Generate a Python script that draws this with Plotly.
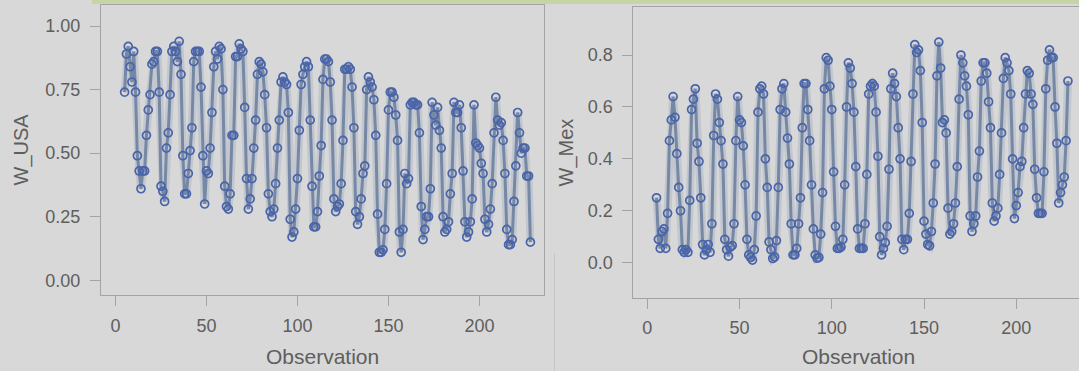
import plotly.graph_objects as go

# ---------------- data ----------------
first_obs = 5

w_usa = [
    0.74, 0.89, 0.92, 0.84, 0.78, 0.90, 0.74, 0.49, 0.43, 0.36, 0.43, 0.43,   # 5-16
    0.57, 0.67, 0.73, 0.85, 0.86, 0.90, 0.90, 0.74, 0.37, 0.35, 0.31, 0.52,   # 17-28
    0.58, 0.73, 0.90, 0.92, 0.90, 0.86, 0.94, 0.81, 0.49, 0.34, 0.34, 0.42,   # 29-40
    0.51, 0.60, 0.86, 0.90, 0.90, 0.90, 0.76, 0.49, 0.30, 0.43, 0.42, 0.52,   # 41-52
    0.66, 0.84, 0.90, 0.87, 0.92, 0.91, 0.75, 0.37, 0.29, 0.28, 0.34, 0.57,   # 53-64
    0.57, 0.88, 0.88, 0.93, 0.91, 0.90, 0.68, 0.40, 0.28, 0.32, 0.40, 0.52,   # 65-76
    0.63, 0.81, 0.86, 0.85, 0.82, 0.73, 0.60, 0.34, 0.27, 0.25, 0.28, 0.38,   # 77-88
    0.52, 0.63, 0.78, 0.80, 0.78, 0.77, 0.66, 0.24, 0.17, 0.19, 0.28, 0.40,   # 89-100
    0.59, 0.77, 0.81, 0.84, 0.86, 0.84, 0.63, 0.37, 0.21, 0.21, 0.27, 0.41,   # 101-112
    0.53, 0.79, 0.87, 0.87, 0.86, 0.78, 0.63, 0.32, 0.27, 0.29, 0.30, 0.38,   # 113-124
    0.55, 0.83, 0.83, 0.84, 0.83, 0.76, 0.60, 0.27, 0.22, 0.25, 0.32, 0.42,   # 125-136
    0.45, 0.75, 0.80, 0.78, 0.76, 0.71, 0.57, 0.26, 0.11, 0.11, 0.12, 0.20,   # 137-148
    0.38, 0.67, 0.74, 0.74, 0.72, 0.65, 0.55, 0.19, 0.11, 0.20, 0.42, 0.38,   # 149-160
    0.40, 0.69, 0.70, 0.70, 0.69, 0.69, 0.58, 0.29, 0.16, 0.20, 0.25, 0.25,   # 161-172
    0.36, 0.70, 0.65, 0.61, 0.68, 0.59, 0.52, 0.25, 0.19, 0.20, 0.23, 0.34,   # 173-184
    0.42, 0.70, 0.66, 0.66, 0.69, 0.60, 0.43, 0.23, 0.17, 0.19, 0.23, 0.32,   # 185-196
    0.69, 0.54, 0.53, 0.52, 0.46, 0.42, 0.24, 0.19, 0.22, 0.28, 0.38, 0.58,   # 197-208
    0.72, 0.63, 0.61, 0.62, 0.55, 0.42, 0.20, 0.14, 0.14, 0.16, 0.31, 0.45,   # 209-220
    0.66, 0.58, 0.50, 0.52, 0.52, 0.41, 0.41, 0.15,                           # 221-228
]

w_mex = [
    0.25, 0.09, 0.055, 0.12, 0.13, 0.055, 0.19, 0.47, 0.55, 0.64, 0.56, 0.42,   # 5-16
    0.29, 0.20, 0.05, 0.04, 0.05, 0.04, 0.24, 0.59, 0.63, 0.67, 0.46, 0.39,     # 17-28
    0.25, 0.07, 0.03, 0.05, 0.07, 0.04, 0.15, 0.49, 0.65, 0.63, 0.54, 0.47,     # 29-40
    0.38, 0.09, 0.05, 0.025, 0.06, 0.066, 0.15, 0.47, 0.64, 0.55, 0.54, 0.45,   # 41-52
    0.30, 0.09, 0.03, 0.02, 0.01, 0.05, 0.18, 0.58, 0.67, 0.68, 0.65, 0.40,     # 53-64
    0.29, 0.08, 0.05, 0.016, 0.022, 0.085, 0.29, 0.59, 0.67, 0.69, 0.58, 0.48,  # 65-76
    0.38, 0.15, 0.03, 0.03, 0.055, 0.15, 0.25, 0.52, 0.69, 0.69, 0.59, 0.47,    # 77-88
    0.30, 0.13, 0.03, 0.017, 0.02, 0.11, 0.27, 0.67, 0.79, 0.78, 0.68, 0.59,    # 89-100
    0.35, 0.14, 0.055, 0.055, 0.06, 0.09, 0.30, 0.60, 0.77, 0.75, 0.69, 0.58,   # 101-112
    0.37, 0.13, 0.055, 0.055, 0.055, 0.15, 0.34, 0.65, 0.68, 0.69, 0.68, 0.58,  # 113-124
    0.41, 0.10, 0.03, 0.055, 0.077, 0.14, 0.36, 0.67, 0.73, 0.69, 0.64, 0.52,   # 125-136
    0.40, 0.09, 0.05, 0.09, 0.09, 0.19, 0.39, 0.65, 0.84, 0.81, 0.82, 0.74,     # 137-148
    0.54, 0.16, 0.11, 0.07, 0.065, 0.12, 0.23, 0.38, 0.72, 0.85, 0.75, 0.54,    # 149-160
    0.55, 0.50, 0.21, 0.11, 0.12, 0.15, 0.23, 0.37, 0.63, 0.80, 0.77, 0.72,     # 161-172
    0.68, 0.57, 0.18, 0.12, 0.15, 0.18, 0.33, 0.43, 0.70, 0.77, 0.77, 0.73,     # 173-184
    0.62, 0.52, 0.23, 0.16, 0.18, 0.21, 0.34, 0.50, 0.71, 0.79, 0.77, 0.74,     # 185-196
    0.65, 0.40, 0.17, 0.22, 0.27, 0.37, 0.39, 0.52, 0.65, 0.74, 0.73, 0.65,     # 197-208
    0.61, 0.36, 0.25, 0.19, 0.19, 0.19, 0.35, 0.67, 0.78, 0.82, 0.79, 0.79,     # 209-220
    0.60, 0.46, 0.23, 0.27, 0.30, 0.33, 0.47, 0.70,                             # 221-228
]

obs_usa = list(range(first_obs, first_obs + len(w_usa)))
obs_mex = list(range(first_obs, first_obs + len(w_mex)))

x_ticks = [0, 50, 100, 150, 200]
usa_ticks = [0.0, 0.25, 0.5, 0.75, 1.0]
usa_ticktext = ["0.00", "0.25", "0.50", "0.75", "1.00"]
mex_ticks = [0.0, 0.2, 0.4, 0.6, 0.8]
mex_ticktext = ["0.0", "0.2", "0.4", "0.6", "0.8"]

# ---------------- style ----------------
W, H = 1079, 371
BG = "#d8d8d8"
FRAME = "#a4a4a4"
TXT = "#5e5e5e"
FONT = "Liberation Sans, Arial, sans-serif"
MARK = "#4a64aa"
LINE = "rgba(104,124,156,0.85)"
HALO = "rgba(112,136,178,0.22)"

fig = go.Figure()

def add_series(x, y, xa, ya):
    fig.add_trace(go.Scatter(x=x, y=y, xaxis=xa, yaxis=ya, mode="lines",
                             line=dict(color=HALO, width=8), hoverinfo="skip",
                             showlegend=False))
    fig.add_trace(go.Scatter(x=x, y=y, xaxis=xa, yaxis=ya, mode="lines",
                             line=dict(color=LINE, width=3), hoverinfo="skip",
                             showlegend=False))
    fig.add_trace(go.Scatter(x=x, y=y, xaxis=xa, yaxis=ya, mode="markers",
                             marker=dict(symbol="circle-open", size=8,
                                         color=MARK, line=dict(width=1.7, color=MARK)),
                             showlegend=False))

add_series(obs_usa, w_usa, "x", "y")
add_series(obs_mex, w_mex, "x2", "y2")

axis_common = dict(showgrid=False, zeroline=False, showline=True, linecolor=FRAME,
                   linewidth=1, ticks="outside", ticklen=10, tickcolor=FRAME,
                   tickwidth=1, tickfont=dict(family=FONT, size=18, color=TXT))

# pixel geometry -> paper fractions
def px_x(px):
    return px / W

def px_y(py):
    return 1 - py / H

fig.update_layout(
    width=W, height=H,
    margin=dict(l=0, r=0, t=0, b=0),
    paper_bgcolor=BG, plot_bgcolor=BG,
    font=dict(family=FONT, color=TXT),
    xaxis=dict(domain=[px_x(101), px_x(543.5)], range=[-7.97, 235.2], anchor="y",
               tickvals=x_ticks, mirror=True, ticklabelstandoff=4, **axis_common),
    yaxis=dict(domain=[px_y(295), px_y(4.7)], range=[-0.058, 1.084], anchor="x",
               tickvals=usa_ticks, ticktext=usa_ticktext, mirror=True,
               ticklabelstandoff=6, **axis_common),
    xaxis2=dict(domain=[px_x(633.3), 1.0], range=[-7.59, 234.0], anchor="y2",
                tickvals=x_ticks, mirror=True, ticklabelstandoff=4, **axis_common),
    yaxis2=dict(domain=[px_y(297.7), px_y(7.3)], range=[-0.135, 0.984], anchor="x2",
                tickvals=mex_ticks, ticktext=mex_ticktext, mirror=False,
                ticklabelstandoff=6, **axis_common),
    shapes=[
        dict(type="rect", xref="paper", yref="paper", x0=px_x(92), x1=1.0,
             y0=px_y(4), y1=1.0, fillcolor="#c5d5a6", line=dict(width=0), layer="above"),
        dict(type="line", xref="paper", yref="paper", x0=px_x(554.5), x1=px_x(554.5),
             y0=0, y1=px_y(253), line=dict(color="#c6c6c6", width=1)),
    ],
    annotations=[
        dict(text="Observation", xref="paper", yref="paper", x=px_x(322.2), y=px_y(356.7),
             showarrow=False, xanchor="center", yanchor="middle",
             font=dict(family=FONT, size=21, color=TXT)),
        dict(text="Observation", xref="paper", yref="paper", x=px_x(858.5), y=px_y(356.7),
             showarrow=False, xanchor="center", yanchor="middle",
             font=dict(family=FONT, size=21, color=TXT)),
        dict(text="W_USA", xref="paper", yref="paper", x=px_x(21.5), y=px_y(150),
             showarrow=False, xanchor="center", yanchor="middle", textangle=-90,
             font=dict(family=FONT, size=20, color=TXT)),
        dict(text="W_Mex", xref="paper", yref="paper", x=px_x(566), y=px_y(152.5),
             showarrow=False, xanchor="center", yanchor="middle", textangle=-90,
             font=dict(family=FONT, size=20, color=TXT)),
    ],
)

fig.write_html(
    "out.html",
    config={"displayModeBar": False},
    post_script="document.body.style.margin='0';document.body.style.background='#d8d8d8';document.body.style.overflow='hidden';",
)
